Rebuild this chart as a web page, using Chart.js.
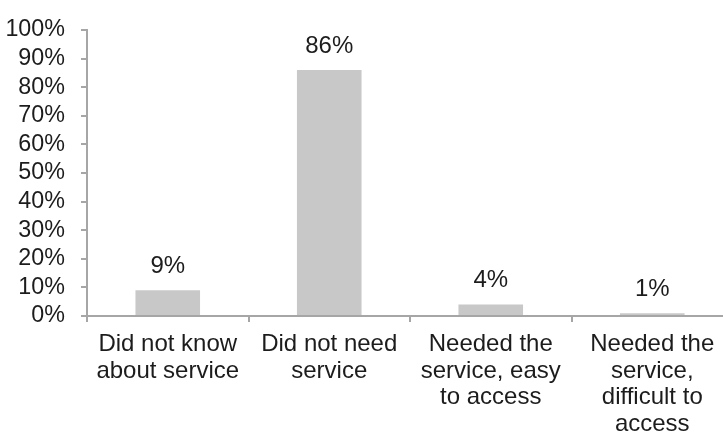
<!DOCTYPE html>
<html>
<head>
<meta charset="utf-8">
<script src="https://cdn.jsdelivr.net/npm/chart.js@4"></script>
<style>
  html, body { margin: 0; padding: 0; background: #fff; overflow: hidden; }
  #wrap { width: 736px; height: 434px; }
</style>
</head>
<body>
<div id="wrap"><canvas id="myChart"></canvas></div>
<script>
// survey answers, percent of respondents
const categories = [
  ['Did not know', 'about service'],
  ['Did not need', 'service'],
  ['Needed the', 'service, easy', 'to access'],
  ['Needed the', 'service,', 'difficult to', 'access']
];
const percents = [9, 86, 4, 1];
const yTicks = [0, 10, 20, 30, 40, 50, 60, 70, 80, 90, 100];

const axisGrey = '#a6a6a6';
const textColor = '#1c1c1c';
const fontFamily = '"Liberation Sans", Arial, sans-serif';

// prints "NN%" above each bar
const valueLabels = {
  id: 'valueLabels',
  afterDatasetsDraw(chart) {
    const ctx = chart.ctx;
    const meta = chart.getDatasetMeta(0);
    ctx.save();
    ctx.font = '24px ' + fontFamily;
    ctx.fillStyle = textColor;
    ctx.textAlign = 'center';
    ctx.textBaseline = 'middle';
    meta.data.forEach(function (bar, i) {
      ctx.fillText(percents[i] + '%', bar.x, bar.y - 24);
    });
    ctx.restore();
  }
};

const ctx = document.getElementById('myChart').getContext('2d');
const myChart = new Chart(ctx, {
  type: 'bar',
  data: {
    labels: categories,
    datasets: [{
      data: percents,
      backgroundColor: '#c8c8c8',
      borderWidth: 0,
      barPercentage: 0.4,
      categoryPercentage: 1
    }]
  },
  options: {
    responsive: true,
    maintainAspectRatio: false,
    animation: false,
    layout: { padding: { top: 22, right: 3, left: 0, bottom: 0 } },
    plugins: {
      legend: { display: false },
      tooltip: { enabled: false }
    },
    scales: {
      x: {
        offset: true,
        grid: {
          offset: true,
          drawOnChartArea: false,
          drawTicks: true,
          tickLength: 6,
          color: axisGrey,
          lineWidth: 2
        },
        border: { color: axisGrey, width: 2 },
        ticks: {
          color: textColor,
          padding: 9,
          maxRotation: 0,
          autoSkip: false,
          font: { family: fontFamily, size: 24, lineHeight: 1.11 }
        },
        afterFit(scale) { scale.height = 118; }
      },
      y: {
        min: 0,
        max: 100,
        afterBuildTicks(scale) {
          scale.ticks = yTicks.map(v => ({ value: v }));
        },
        grid: {
          drawOnChartArea: false,
          drawTicks: true,
          tickLength: 6,
          color: axisGrey,
          lineWidth: 2
        },
        border: { color: axisGrey, width: 2 },
        ticks: {
          color: textColor,
          padding: 16,
          autoSkip: false,
          font: { family: fontFamily, size: 23.3 },
          callback: function (v) { return v + '%'; }
        },
        afterFit(scale) { scale.width = 87; }
      }
    }
  },
  plugins: [valueLabels]
});
</script>
</body>
</html>
